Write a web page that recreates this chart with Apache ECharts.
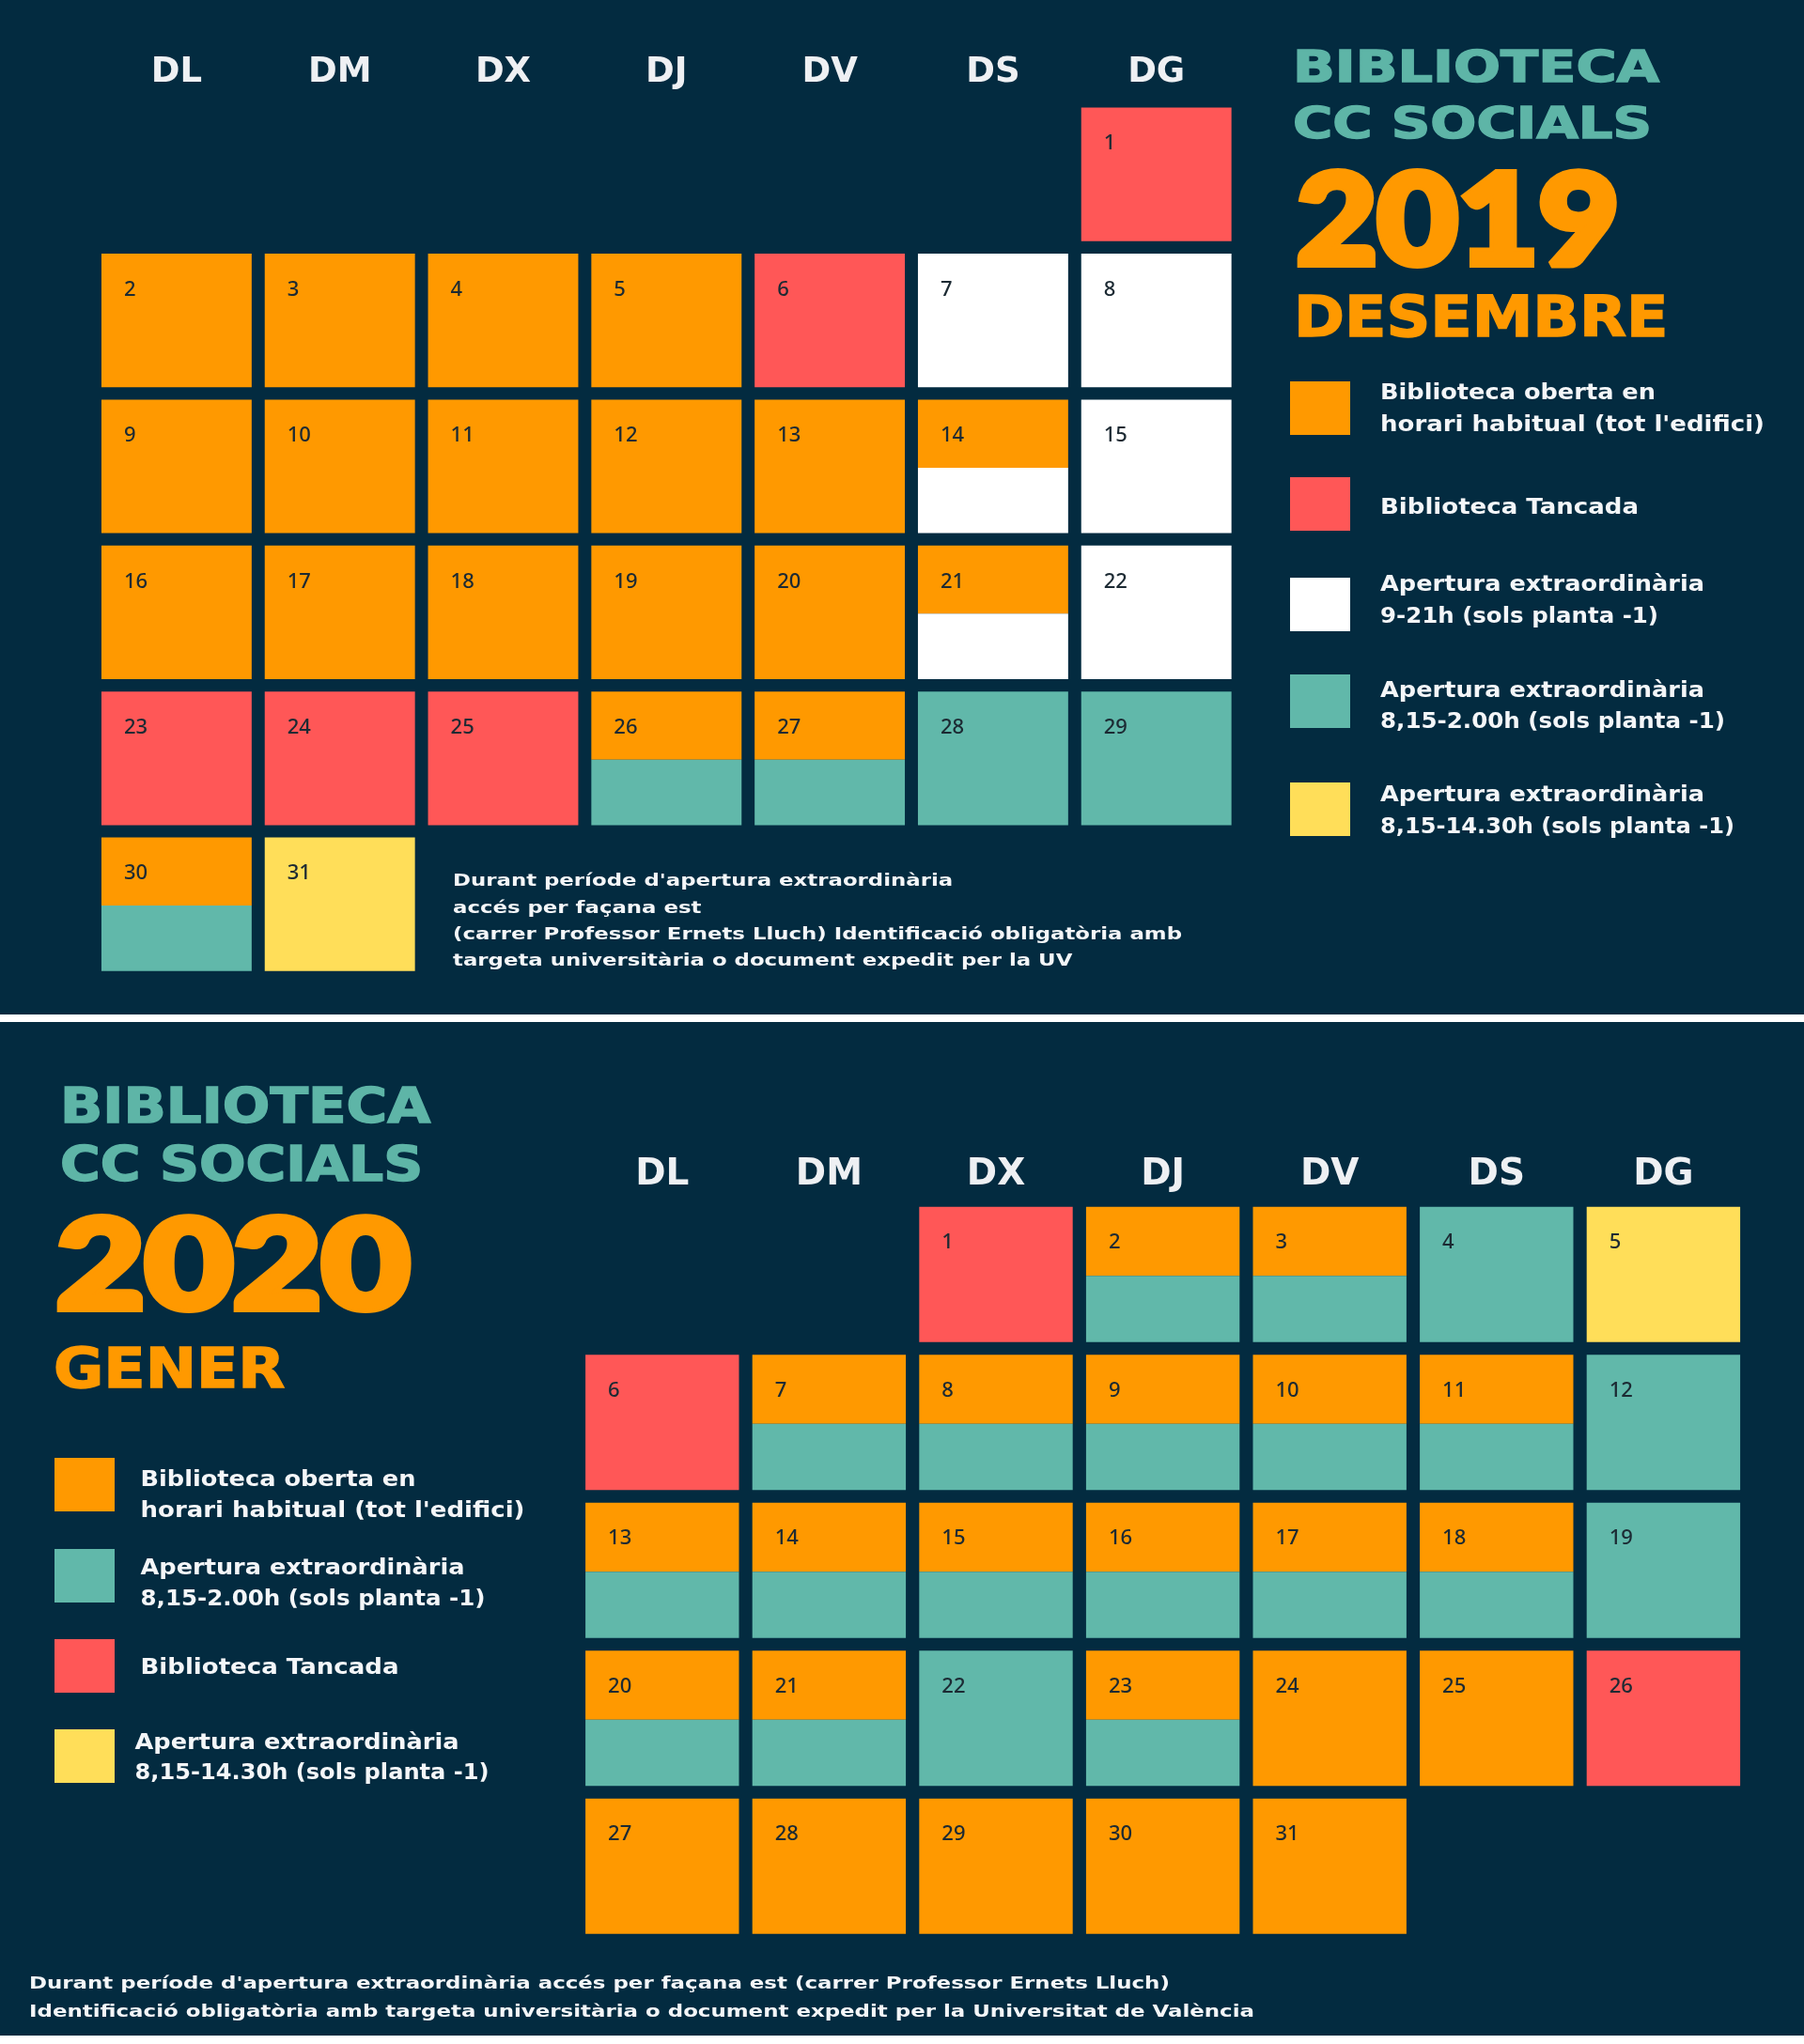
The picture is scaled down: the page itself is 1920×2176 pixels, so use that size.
<!DOCTYPE html>
<html>
<head>
<meta charset="utf-8">
<title>Biblioteca CC Socials - Desembre 2019 / Gener 2020</title>
<script src="https://cdn.jsdelivr.net/npm/echarts@6/dist/echarts.min.js"></script>
<style>
html, body { margin: 0; padding: 0; background: #032b40; }
#calendar { width: 1920px; height: 2176px; }
</style>
</head>
<body>
<div id="calendar"></div>
<script>
// ---- data ----
var weekdayNames = ['DG', 'DL', 'DM', 'DX', 'DJ', 'DV', 'DS']   // Sunday first, as nameMap wants

// O = oberta, T = tancada, W = 9-21h, E = 8,15-2.00h, Y = 8,15-14.30h
var statusLabels = {
    O: ['Biblioteca oberta en', "horari habitual (tot l'edifici)"],
    T: ['Biblioteca Tancada'],
    W: ['Apertura extraordinària', '9-21h (sols planta -1)'],
    E: ['Apertura extraordinària', '8,15-2.00h (sols planta -1)'],
    Y: ['Apertura extraordinària', '8,15-14.30h (sols planta -1)']
}
var statusColors = { O: '#ff9900', T: '#ff5757', W: '#ffffff', E: '#61b8aa', Y: '#ffde59' }

// december 2019, one entry per day (top half / bottom half of the cell)
var decMonth = '2019-12'
var decTop = ['T', 'O', 'O', 'O', 'O', 'T', 'W', 'W', 'O', 'O', 'O', 'O', 'O', 'O', 'W', 'O',
    'O', 'O', 'O', 'O', 'O', 'W', 'T', 'T', 'T', 'O', 'O', 'E', 'E', 'O', 'Y']
var decBottom = ['T', 'O', 'O', 'O', 'O', 'T', 'W', 'W', 'O', 'O', 'O', 'O', 'O', 'W', 'W', 'O',
    'O', 'O', 'O', 'O', 'W', 'W', 'T', 'T', 'T', 'E', 'E', 'E', 'E', 'E', 'Y']

// january 2020
var janMonth = '2020-01'
var janTop = ['T', 'O', 'O', 'E', 'Y', 'T', 'O', 'O', 'O', 'O', 'O', 'E', 'O', 'O', 'O', 'O',
    'O', 'O', 'E', 'O', 'O', 'E', 'O', 'O', 'O', 'T', 'O', 'O', 'O', 'O', 'O']
var janBottom = ['T', 'E', 'E', 'E', 'Y', 'T', 'E', 'E', 'E', 'E', 'E', 'E', 'E', 'E', 'E', 'E',
    'E', 'E', 'E', 'E', 'E', 'E', 'E', 'O', 'O', 'T', 'O', 'O', 'O', 'O', 'O']

var decLegend = ['O', 'T', 'W', 'E', 'Y']
var janLegend = ['O', 'E', 'T', 'Y']

var decTitle = ['BIBLIOTECA', 'CC SOCIALS', '2019', 'DESEMBRE']
var janTitle = ['BIBLIOTECA', 'CC SOCIALS', '2020', 'GENER']

var decNote = ["Durant període d'apertura extraordinària", 'accés per façana est',
    '(carrer Professor Ernets Lluch) Identificació obligatòria amb',
    'targeta universitària o document expedit per la UV']
var janNote = ["Durant període d'apertura extraordinària accés per façana est (carrer Professor Ernets Lluch)",
    'Identificació obligatòria amb targeta universitària o document expedit per la Universitat de València']

// ---- styles / layout ----
var NAVY = '#032b40'
var TITLE_TEAL = '#5eb5a7'
var TEXT_WHITE = '#f4f6f8'
var NUM_COLOR = '#1c2a33'
var SANS = '"DejaVu Sans", sans-serif'
var HEAVY = 'Lato, "DejaVu Sans", sans-serif'
var CELL_FILL_W = 0.92
var CELL_FILL_H = 0.915
var SPLIT = 0.51

// printed width of each legend line in the poster (px)
var legendLineWidths = {
    'Biblioteca oberta en': 293,
    "horari habitual (tot l'edifici)": 409,
    'Biblioteca Tancada': 275,
    'Apertura extraordinària': 345,
    '9-21h (sols planta -1)': 296,
    '8,15-2.00h (sols planta -1)': 367,
    '8,15-14.30h (sols planta -1)': 377
}

var mctx = document.createElement('canvas').getContext('2d')

function setFont(size, weight, family) {
    mctx.font = weight + ' ' + size + 'px ' + family
}

function textWidth(str, size, weight, family) {
    setFont(size, weight, family)
    return mctx.measureText(str).width
}

// text placed by its baseline, optionally stretched horizontally
function textLine(str, x, baseline, size, weight, family, color, sx, strokeW) {
    setFont(size, weight, family)
    mctx.textBaseline = 'middle'
    var off = mctx.measureText('H').actualBoundingBoxDescent
    var style = {
        text: str, fill: color, fontSize: size, fontWeight: weight,
        fontFamily: family, align: 'left', verticalAlign: 'middle'
    }
    if (strokeW) {
        style.stroke = color
        style.lineWidth = strokeW
        style.lineJoin = 'round'
    }
    return { type: 'text', x: x, y: baseline - off, scaleX: sx || 1, silent: true, style: style }
}

function fitLine(str, x, baseline, size, weight, family, color, width, strokeW) {
    var w = textWidth(str, size, weight, family) + (strokeW || 0)
    return textLine(str, x, baseline, size, weight, family, color, width / w, strokeW)
}

// ---- cells ----
function renderCell(params, api) {
    var pt = api.coord([api.value(0)])
    var cw = params.coordSys.cellWidth * CELL_FILL_W
    var ch = params.coordSys.cellHeight * CELL_FILL_H
    var x0 = pt[0] - cw / 2
    var y0 = pt[1] - ch / 2
    var part = api.value(1)
    var y = part === 2 ? y0 + ch * SPLIT : y0
    var h = part === 0 ? ch : (part === 1 ? ch * SPLIT : ch * (1 - SPLIT))
    var children = [{
        type: 'rect',
        shape: { x: x0, y: y, width: cw, height: h },
        style: { fill: api.visual('color') }
    }]
    if (part !== 2) {
        children.push({
            type: 'text',
            style: {
                text: String(api.value(2)), x: x0 + 24, y: y0 + 38.5,
                fill: NUM_COLOR, fontSize: 22, fontWeight: 500, fontFamily: '"Noto Sans", sans-serif',
                align: 'left', verticalAlign: 'middle'
            }
        })
    }
    return { type: 'group', children: children }
}

function monthSeries(month, top, bottom, calIdx) {
    var byStatus = {}
    function add(s, item) {
        (byStatus[s] = byStatus[s] || []).push(item)
    }
    top.forEach(function (s, i) {
        var day = i + 1
        var date = month + '-' + (day < 10 ? '0' : '') + day
        if (s === bottom[i]) {
            add(s, [date, 0, day])
        } else {
            add(s, [date, 1, day])
            add(bottom[i], [date, 2, day])
        }
    })
    return Object.keys(byStatus).map(function (s) {
        return {
            type: 'custom',
            name: statusLabels[s].join(' '),
            coordinateSystem: 'calendar',
            calendarIndex: calIdx,
            itemStyle: { color: statusColors[s] },
            renderItem: renderCell,
            data: byStatus[s]
        }
    })
}

// ---- legends ----
function legendBlock(keys, boxX, boxTops, textXs, baselines) {
    var out = []
    keys.forEach(function (k, i) {
        out.push({
            type: 'rect', silent: true,
            shape: { x: boxX, y: boxTops[i], width: 64, height: 57 },
            style: { fill: statusColors[k] }
        })
        statusLabels[k].forEach(function (line, j) {
            out.push(fitLine(line, textXs[i], baselines[i][j], 23, 'bold', SANS, TEXT_WHITE, legendLineWidths[line]))
        })
    })
    return out
}

function noteBlock(lines, x, baselines, fitIdx, fitWidth) {
    var sx = fitWidth / textWidth(lines[fitIdx], 18, 'bold', SANS)
    return lines.map(function (line, i) {
        return textLine(line, x, baselines[i], 18, 'bold', SANS, TEXT_WHITE, sx)
    })
}

var graphics = [
    { type: 'rect', silent: true, shape: { x: 0, y: 1080, width: 1920, height: 8 }, style: { fill: '#ffffff' } },
    { type: 'rect', silent: true, shape: { x: 0, y: 2167, width: 1920, height: 9 }, style: { fill: '#ffffff' } },

    fitLine(decTitle[0], 1376, 87, 47, 'bold', SANS, TITLE_TEAL, 392, 1.5),
    fitLine(decTitle[1], 1376, 147, 47, 'bold', SANS, TITLE_TEAL, 384, 1.5),
    fitLine(decTitle[2], 1380, 281, 134, 900, HEAVY, statusColors.O, 352, 8),
    fitLine(decTitle[3], 1377, 358, 61, 'bold', SANS, statusColors.O, 400, 1.5),

    fitLine(janTitle[0], 64, 1195, 51, 'bold', SANS, TITLE_TEAL, 396, 1.5),
    fitLine(janTitle[1], 64, 1257, 51, 'bold', SANS, TITLE_TEAL, 388, 1.5),
    fitLine(janTitle[2], 60, 1393, 132, 900, HEAVY, statusColors.O, 386, 8),
    fitLine(janTitle[3], 57, 1477, 59, 'bold', SANS, statusColors.O, 248, 1.5)
]
graphics = graphics
    .concat(legendBlock(decLegend, 1373, [406, 508, 615, 718, 833], [1469, 1469, 1469, 1469, 1469],
        [[425, 459], [547], [629, 663], [742, 775], [853, 887]]))
    .concat(legendBlock(janLegend, 58, [1552, 1649, 1745, 1841], [149.5, 149.5, 149.5, 143.5],
        [[1582, 1615], [1676, 1709], [1782], [1862, 1894]]))
    .concat(noteBlock(decNote, 482, [943, 972, 1000, 1028], 2, 776))
    .concat(noteBlock(janNote, 31, [2117, 2147], 1, 1304))

function calendarOpt(month, left, top, cellSize, labelSize, labelMargin) {
    return {
        orient: 'vertical',
        range: month,
        left: left,
        top: top,
        cellSize: cellSize,
        dayLabel: {
            firstDay: 1,
            nameMap: weekdayNames,
            position: 'start',
            margin: labelMargin,
            color: '#eef0f3',
            fontSize: labelSize,
            fontWeight: 'bold',
            fontFamily: SANS
        },
        monthLabel: { show: false },
        yearLabel: { show: false },
        splitLine: { show: false },
        itemStyle: { color: 'transparent', borderWidth: 0 }
    }
}

var chart = echarts.init(document.getElementById('calendar'))
var option = {
    backgroundColor: NAVY,
    animation: false,
    calendar: [
        calendarOpt(decMonth, 101, 108, [173.8, 155.4], 37, 12),
        calendarOpt(janMonth, 616, 1278, [177.6, 157.5], 39, 8)
    ],
    graphic: graphics,
    series: monthSeries(decMonth, decTop, decBottom, 0).concat(monthSeries(janMonth, janTop, janBottom, 1))
}
chart.setOption(option)
</script>
</body>
</html>
